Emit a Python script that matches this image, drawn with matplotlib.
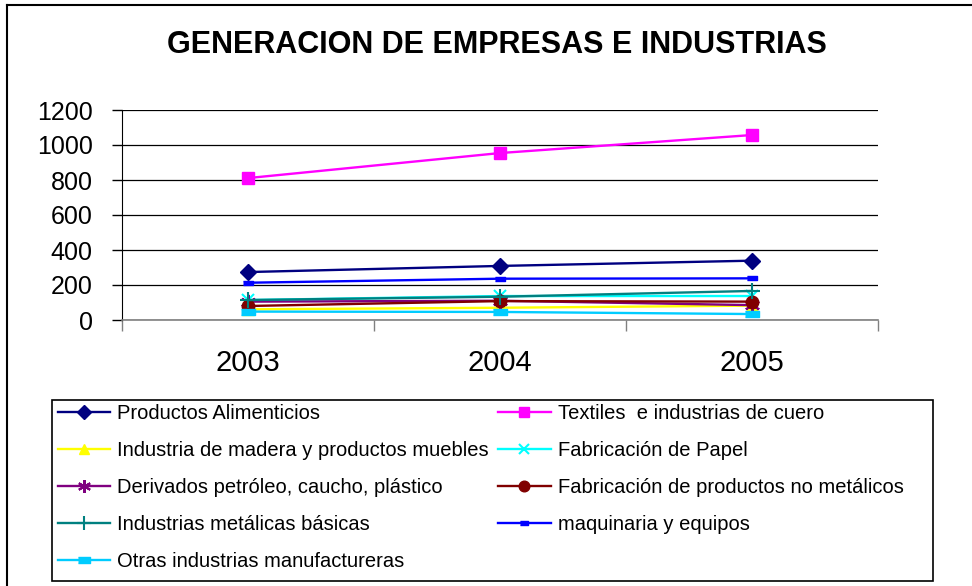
import matplotlib
matplotlib.use("Agg")
import matplotlib.pyplot as plt
from matplotlib.lines import Line2D
from matplotlib.patches import Rectangle

plt.rcParams['font.family'] = ['Liberation Sans', 'DejaVu Sans']

years = ['2003', '2004', '2005']

series_names = [
    'Productos Alimenticios',
    'Textiles  e industrias de cuero',
    'Industria de madera y productos muebles',
    'Fabricación de Papel',
    'Derivados petróleo, caucho, plástico',
    'Fabricación de productos no metálicos',
    'Industrias metálicas básicas',
    'maquinaria y equipos',
    'Otras industrias manufactureras',
]

alimenticios = [274, 309, 339]
textiles = [811, 954, 1057]
madera = [61, 70, 82]
papel = [114, 137, 137]
derivados = [105, 110, 85]
no_metalicos = [80, 108, 105]
metalicas = [114, 133, 166]
maquinaria = [213, 236, 238]
otras = [48, 46, 34]

values = [alimenticios, textiles, madera, papel, derivados,
          no_metalicos, metalicas, maquinaria, otras]

dash = [(-1, -0.45), (1, -0.45), (1, 0.45), (-1, 0.45)]
styles = [
    dict(color='#000080', marker='D', ms=8),
    dict(color='#FF00FF', marker='s', ms=8),
    dict(color='#FFFF00', marker='^', ms=9),
    dict(color='#00FFFF', marker='x', ms=9, mew=1.5),
    dict(color='#800080', marker=(6, 2, 0), ms=11, mew=1.5),
    dict(color='#800000', marker='o', ms=9),
    dict(color='#008080', marker='+', ms=12, mew=1.5),
    dict(color='#0000FF', marker=dash, ms=7),
    dict(color='#00CCFF', marker=dash, ms=10),
]

W, H = 972, 586
fig = plt.figure(figsize=(W / 100, H / 100), dpi=100)

# outer chart border (left and top edges visible)
fig.add_artist(Line2D([7 / W, 7 / W], [0, 1 - 5 / H], color='black', lw=1.5))
fig.add_artist(Line2D([7 / W, 1], [1 - 5 / H, 1 - 5 / H], color='black', lw=1.5))

ax = fig.add_axes([122 / W, 1 - 320 / H, 756 / W, 210 / H])

x = list(range(len(years)))
handles = []
for name, vals, st in zip(series_names, values, styles):
    ln, = ax.plot(x, vals, lw=1.7, label=name, mec=st['color'],
                  mfc=st['color'], **st)
    handles.append(ln)

ax.set_xlim(-0.5, 2.5)
ax.set_ylim(0, 1200)
ax.set_yticks(range(0, 1201, 200))
ax.yaxis.grid(True, color='black', lw=0.9)
ax.set_axisbelow(True)

ax.set_xticks(x)
ax.set_xticklabels(years, fontsize=21)
ax.set_xticks([-0.5, 0.5, 1.5, 2.5], minor=True)
ax.tick_params(axis='x', which='major', length=0, pad=21)
ax.tick_params(axis='x', which='minor', length=8, color='#808080', width=1)
ax.tick_params(axis='y', length=7, width=1, labelsize=18, pad=14)

for s in ['top', 'right']:
    ax.spines[s].set_visible(False)
ax.spines['left'].set_color('black')
ax.spines['bottom'].set_color('#808080')
ax.spines['bottom'].set_linewidth(1.2)

fig.text(497 / W, 1 - 45 / H, 'GENERACION DE EMPRESAS E INDUSTRIAS',
         ha='center', va='center', fontsize=22, fontweight='bold')

# legend: row-wise order in two columns
order = [0, 2, 4, 6, 8, 1, 3, 5, 7]
leg = fig.legend([handles[i] for i in order], [series_names[i] for i in order],
                 ncol=2, loc='upper left', bbox_to_anchor=(52 / W, 1 - 398 / H),
                 frameon=False, fontsize=14.5, handlelength=2.6,
                 handletextpad=0.35, columnspacing=0.45, labelspacing=0.89,
                 borderpad=0.3, borderaxespad=0, markerscale=0.85)
fig.add_artist(Rectangle((52 / W, 1 - 581 / H), 881 / W, 181 / H,
                         transform=fig.transFigure, fill=False,
                         ec='black', lw=1.2))

fig.savefig('out.png', dpi=100)
